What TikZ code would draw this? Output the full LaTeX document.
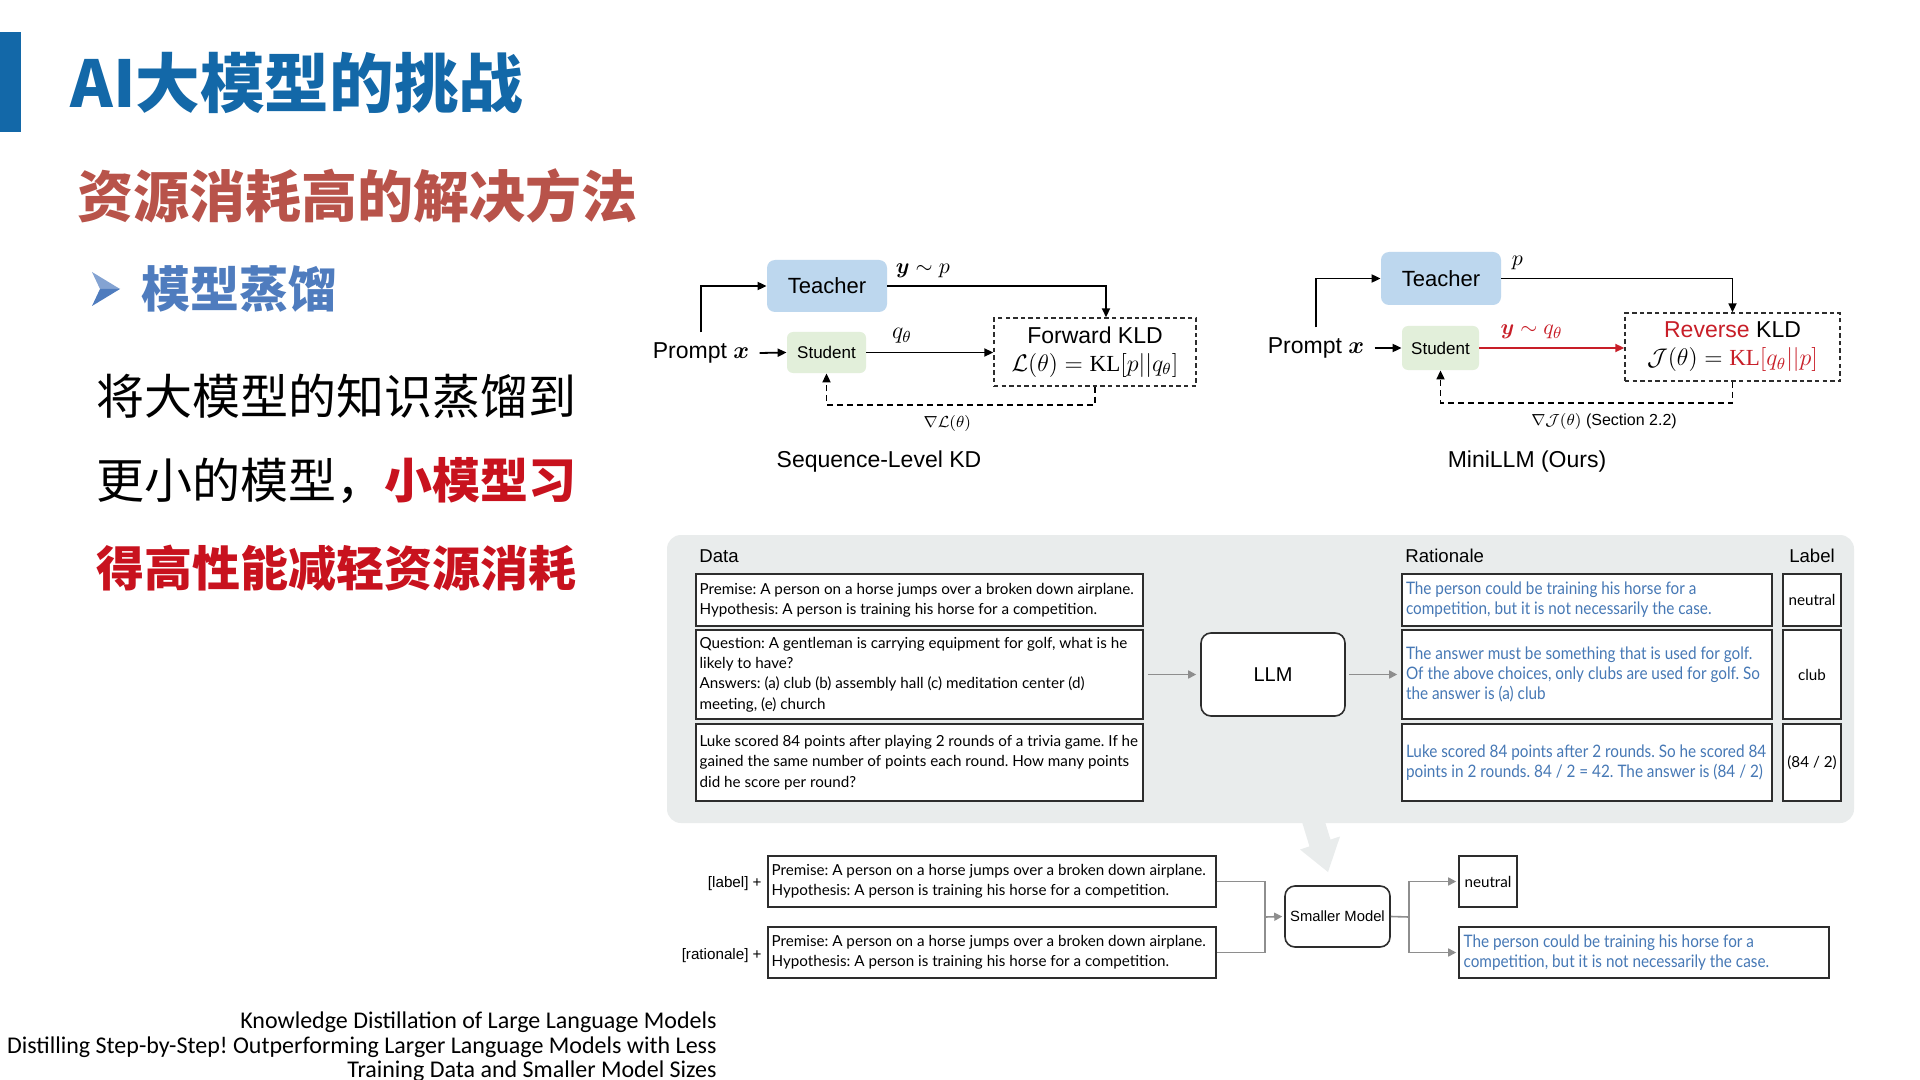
\documentclass[tikz,border=0pt]{standalone}
\usepackage{amsmath}
\usepackage{bm}
\usepackage{fontspec}
\setmainfont{Liberation Sans}
\newfontfamily\cjk{Noto Sans CJK SC}
\newfontfamily\lato{Lato}
\newfontfamily\latocond[FakeStretch=0.89]{Lato}
\newfontfamily\carl{Carlito}
\newfontfamily\serifkl{Liberation Serif}
\newcommand\KLop{\mbox{\serifkl KL}}
\usetikzlibrary{arrows.meta,fit,calc}

\definecolor{titleblue}{RGB}{19,104,168}
\definecolor{subred}{RGB}{184,83,74}
\definecolor{distblue}{RGB}{79,124,190}
\definecolor{hotred}{RGB}{200,18,30}
\definecolor{tchfill}{RGB}{189,215,238}
\definecolor{stufill}{RGB}{226,239,218}
\definecolor{panelgray}{RGB}{233,236,236}
\definecolor{ratblue}{RGB}{70,120,181}
\definecolor{linegray}{RGB}{142,142,142}
\definecolor{boxline}{RGB}{45,45,45}
\definecolor{klred}{RGB}{200,30,40}

\begin{document}
\frenchspacing
\begin{tikzpicture}[x=0.5pt,y=-0.5pt,
  every node/.style={inner sep=0pt},
  tchbox/.style={fill=tchfill, rounded corners=4pt},
  stubox/.style={fill=stufill, rounded corners=3pt},
  kldbox/.style={draw=boxline, line width=0.7pt, dash pattern=on 2.2pt off 1.6pt},
  conn/.style={draw=black, line width=0.9pt, -{Triangle[length=4.5pt,width=4pt]}},
  fbconn/.style={draw=black, line width=0.9pt, dash pattern=on 3pt off 2pt, -{Triangle[length=4.5pt,width=4pt]}},
  dbox/.style={draw=boxline, fill=white, line width=0.8pt},
  mbox/.style={draw=boxline, fill=white, line width=0.8pt, rounded corners=5pt},
  dtext/.style={align=left, font=\lato\fontsize{7.6}{10.1}\selectfont},
  rtext/.style={align=left, text=ratblue, font=\latocond\fontsize{8.6}{10.1}\selectfont},
  ltext/.style={font=\lato\fontsize{7.6}{10}\selectfont},
  hdr/.style={font=\fontsize{9.3}{11}\selectfont},
  gline/.style={draw=linegray, line width=0.8pt},
  garrow/.style={draw=linegray, line width=0.8pt, -{Triangle[length=4pt,width=4pt]}}
]
\useasboundingbox (0,0) rectangle (1920,1080);
\fill[white] (0,0) rectangle (1920,1080);

% ---------- headings and body text ----------
\fill[titleblue] (0,32) rectangle (21,132);
\node[anchor=west, text=titleblue, font=\cjk\bfseries\fontsize{32.3}{34}\selectfont] (title) at (70,83) {AI大模型的挑战};
\node[anchor=west, text=subred, font=\cjk\bfseries\fontsize{28}{30}\selectfont] (sub) at (77,196) {资源消耗高的解决方法};
% arrowhead bullet
\fill[distblue!70!white] (92,272) -- (120,289) -- (100,289) -- cycle;
\fill[distblue] (100,289) -- (120,289) -- (92,306) -- cycle;
\node[anchor=west, text=distblue, font=\cjk\bfseries\fontsize{24.5}{26}\selectfont] (kd) at (141,289) {模型蒸馏};
\node[anchor=west, font=\cjk\fontsize{24}{26}\selectfont] (l1) at (96,396) {将大模型的知识蒸馏到};
\node[anchor=west, font=\cjk\fontsize{24}{26}\selectfont] (l2) at (96,481) {更小的模型，{\bfseries\color{hotred}小模型习}};
\node[anchor=west, text=hotred, font=\cjk\bfseries\fontsize{24}{26}\selectfont] (l3) at (96,568) {得高性能减轻资源消耗};

% ---------- Sequence-Level KD ----------
\node[tchbox, fit={(767,260) (887,312)}] (t1) {};
\node[font=\fontsize{11}{13}\selectfont] at (t1.center) {Teacher};
\node[stubox, fit={(787,332) (866,373)}] (s1) {};
\node[font=\fontsize{8.5}{10}\selectfont] at (s1.center) {Student};
\node[font=\fontsize{11.5}{14}\selectfont] (p1) at (701,353) {Prompt $\bm{x}$};
\node[kldbox, fit={(994,318) (1196,386)}] (k1) {};
\node[align=center, font=\fontsize{11.5}{14}\selectfont] (k1t) at (k1.center) {Forward KLD\\$\mathcal{L}(\theta) = \KLop[p||q_\theta]$};

\draw[conn] ([yshift=5pt]p1.north) |- (t1.west);
\draw[conn] ([xshift=5pt]p1.east) -- (s1.west);
\draw[conn] (s1.east) -- (s1.east -| k1.west) node[pos=0.28, above=4pt, font=\fontsize{11.5}{13}\selectfont] {$q_\theta$};
\draw[conn] (t1.east) -| ([xshift=5.5pt]k1.north);
\node[anchor=south west, font=\fontsize{10.5}{12}\selectfont] (lab1) at ([xshift=4pt,yshift=4pt]t1.east) {$\bm{y}\sim p$};
\coordinate (fb1) at ($(k1.south)+(0,18)$);
\draw[fbconn] (k1.south) -- (fb1) -| (s1.south);
\node[below=5pt, font=\fontsize{8}{10}\selectfont] (g1) at ($(fb1)!0.55!(fb1 -| s1.south)$) {$\nabla\mathcal{L}(\theta)$};
\node[font=\fontsize{11.5}{14}\selectfont] (cap1) at (879,462) {Sequence-Level KD};

% ---------- MiniLLM ----------
\node[tchbox, fit={(1381,252) (1501,305)}] (t2) {};
\node[font=\fontsize{11}{13}\selectfont] at (t2.center) {Teacher};
\node[stubox, fit={(1402,326) (1479,370)}] (s2) {};
\node[font=\fontsize{8.5}{10}\selectfont] at (s2.center) {Student};
\node[font=\fontsize{11.5}{14}\selectfont] (p2) at (1316,348) {Prompt $\bm{x}$};
\node[kldbox, fit={(1625,313) (1840,381)}] (k2) {};
\node[align=center, font=\fontsize{11.5}{14}\selectfont] (k2t) at (k2.center) {{\color{klred}Reverse} KLD\\$\mathcal{J}(\theta) = {\color{klred}\KLop[q_\theta||p]}$};

\draw[conn] ([yshift=5pt]p2.north) |- (t2.west);
\draw[conn] ([xshift=5pt]p2.east) -- (s2.west);
\draw[conn, draw=klred, -{Triangle[length=4.5pt,width=4pt,fill=klred]}] (s2.east) -- (s2.east -| k2.west) node[pos=0.36, above=4pt, text=klred, font=\fontsize{11}{12}\selectfont] {$\bm{y}\sim q_\theta$};
\draw[conn] (t2.east) -| (k2.north);
\node[anchor=south west, font=\fontsize{10.5}{12}\selectfont] (lab2) at ([xshift=5pt,yshift=4pt]t2.east) {$p$};
\coordinate (fb2) at ($(k2.south)+(0,21)$);
\draw[fbconn] (k2.south) -- (fb2) -| (s2.south);
\node[below=5pt, font=\fontsize{8}{10}\selectfont] (g2) at ($(fb2)!0.44!(fb2 -| s2.south)$) {$\nabla\mathcal{J}(\theta)$ (Section 2.2)};
\node[font=\fontsize{11.5}{14}\selectfont] (cap2) at (1527,462) {MiniLLM (Ours)};

% ---------- distilling step-by-step panel ----------
\node[fill=panelgray, rounded corners=7pt, fit={(667,535) (1854,823)}] (panel) {};
\fill[panelgray] (1300.5,817) -- (1321.5,810.6) -- (1330.5,839.6) -- (1340,836.5) -- (1328,872) -- (1300,849.5) -- (1309.5,846.4) -- cycle;

\node[hdr, anchor=west] (hd) at (699,556) {Data};
\node[hdr, anchor=west] (hr) at (1405,556) {Rationale};
\node[hdr] (hl) at (1812,556) {Label};

\node[dbox, fit={(696,574) (1143,626)}] (d1) {};
\node[dbox, fit={(696,630) (1143,719)}] (d2) {};
\node[dbox, fit={(696,724) (1143,801)}] (d3) {};
\node[dtext, anchor=west] (d1t) at ([xshift=2pt]d1.west) {Premise: A person on a horse jumps over a broken down airplane.\\Hypothesis: A person is training his horse for a competition.};
\node[dtext, anchor=west] (d2t) at ([xshift=2pt]d2.west) {Question: A gentleman is carrying equipment for golf, what is he\\likely to have?\\Answers: (a) club (b) assembly hall (c) meditation center (d)\\meeting, (e) church};
\node[dtext, anchor=west] (d3t) at ([xshift=2pt]d3.west) {Luke scored 84 points after playing 2 rounds of a trivia game. If he\\gained the same number of points each round. How many points\\did he score per round?};

\node[mbox, fit={(1201,633) (1345,716)}] (llm) {};
\node[font=\fontsize{10}{12}\selectfont] at (llm.center) {LLM};

\node[dbox, fit={(1402,574) (1772,626)}] (r1) {};
\node[dbox, fit={(1402,630) (1772,719)}] (r2) {};
\node[dbox, fit={(1402,724) (1772,801)}] (r3) {};
\node[rtext, anchor=west] (r1t) at ([xshift=2.2pt]r1.west) {The person could be training his horse for a\\competition, but it is not necessarily the case.};
\node[rtext, anchor=west] (r2t) at ([xshift=2.2pt]r2.west) {The answer must be something that is used for golf.\\Of the above choices, only clubs are used for golf. So\\the answer is (a) club};
\node[rtext, anchor=west] (r3t) at ([xshift=2.2pt]r3.west) {Luke scored 84 points after 2 rounds. So he scored 84\\points in 2 rounds. 84 / 2 = 42. The answer is (84 / 2)};

\node[dbox, fit={(1783,574) (1841,626)}] (b1) {};
\node[dbox, fit={(1783,630) (1841,719)}] (b2) {};
\node[dbox, fit={(1783,724) (1841,801)}] (b3) {};
\node[ltext] at (b1.center) {neutral};
\node[ltext] at (b2.center) {club};
\node[ltext] at (b3.center) {(84 / 2)};

\draw[garrow, shorten <=2pt, shorten >=2pt] (d2.east) -- (llm.west);
\draw[garrow, shorten <=1.5pt, shorten >=2pt] (llm.east) -- (r2.west);

% ---------- training of the smaller model ----------
\node[anchor=east, font=\fontsize{7.6}{9}\selectfont] (la) at (762,884) {[label] +};
\node[anchor=east, font=\fontsize{7.6}{9}\selectfont] (lr) at (762,956) {[rationale] +};
\node[dbox, fit={(768,856) (1216,907)}] (ba) {};
\node[dbox, fit={(768,927) (1216,978)}] (bb) {};
\node[dtext, anchor=west] (bat) at ([xshift=2pt]ba.west) {Premise: A person on a horse jumps over a broken down airplane.\\Hypothesis: A person is training his horse for a competition.};
\node[dtext, anchor=west] (bbt) at ([xshift=2pt]bb.west) {Premise: A person on a horse jumps over a broken down airplane.\\Hypothesis: A person is training his horse for a competition.};

\node[mbox, fit={(1285,886) (1390,947)}] (sm) {};
\node[font=\fontsize{7.4}{9}\selectfont] at (sm.center) {Smaller Model};

\coordinate (jin) at (1265,917);
\coordinate (jout) at (1409,917);
\draw[gline] (ba.east) -| (jin) |- (bb.east);
\draw[garrow, shorten >=1pt] (jin) -- (sm.west);
\draw[gline] (sm.east) -- (jout);
\node[dbox, fit={(1459,856) (1517,907)}] (on) {};
\node[dbox, fit={(1459,927) (1829,978)}] (or) {};
\node[ltext] at (on.center) {neutral};
\node[rtext, anchor=west] (ort) at ([xshift=2.5pt]or.west) {The person could be training his horse for a\\competition, but it is not necessarily the case.};
\draw[garrow, shorten >=1pt] (jout) |- (on.west);
\draw[garrow, shorten >=1pt] (jout) |- (or.west);

% ---------- references ----------
\node[anchor=east, align=right, font=\carl\fontsize{12}{12.2}\selectfont] (refs) at (717,1047) {Knowledge Distillation of Large Language Models\\Distilling Step-by-Step! Outperforming Larger Language Models with Less\\Training Data and Smaller Model Sizes};
\end{tikzpicture}
\end{document}
